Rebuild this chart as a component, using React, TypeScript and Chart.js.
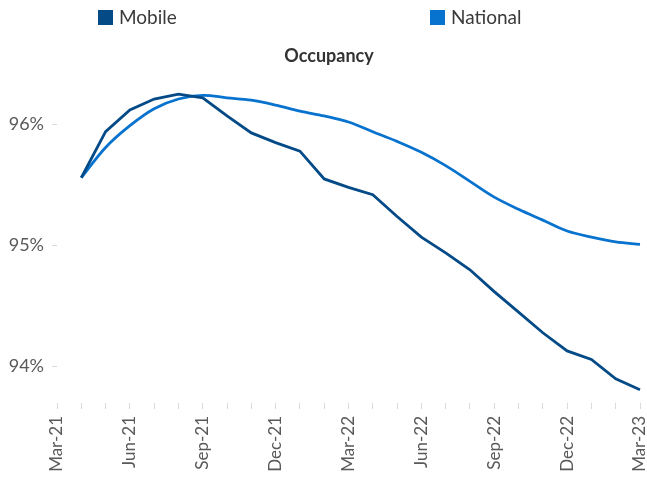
import { useEffect, useRef } from 'react';
import { Chart, registerables } from 'chart.js';

Chart.register(...registerables);

const months = [
  'Mar-21', 'Apr-21', 'May-21', 'Jun-21', 'Jul-21', 'Aug-21', 'Sep-21', 'Oct-21', 'Nov-21',
  'Dec-21', 'Jan-22', 'Feb-22', 'Mar-22', 'Apr-22', 'May-22', 'Jun-22', 'Jul-22', 'Aug-22',
  'Sep-22', 'Oct-22', 'Nov-22', 'Dec-22', 'Jan-23', 'Feb-23', 'Mar-23',
];

const mobile = [
  null, 95.56, 95.94, 96.12, 96.21, 96.25, 96.22, 96.07, 95.93, 95.85, 95.78, 95.55, 95.48,
  95.42, 95.24, 95.07, 94.94, 94.8, 94.62, 94.45, 94.28, 94.13, 94.06, 93.9, 93.81,
];

const national = [
  null, 95.56, 95.81, 95.99, 96.13, 96.21, 96.24, 96.22, 96.2, 96.16, 96.11, 96.07, 96.02,
  95.94, 95.86, 95.77, 95.66, 95.53, 95.4, 95.3, 95.21, 95.12, 95.07, 95.03, 95.01,
];

const yTicks = [94, 95, 96];
const seriesNames = ['Mobile', 'National'];
const seriesColors = ['#034A87', '#0873CF'];
const chartTitle = 'Occupancy';

const FONT = 'Lato, "Open Sans", sans-serif';
const legendX = [98, 430];

const headerPlugin = {
  id: 'header',
  afterDraw(chart: any) {
    const ctx = chart.ctx;
    ctx.save();
    ctx.textBaseline = 'middle';
    ctx.textAlign = 'left';
    ctx.font = `19px ${FONT}`;
    chart.data.datasets.forEach((ds: any, i: number) => {
      const x = legendX[i];
      ctx.fillStyle = ds.borderColor;
      ctx.fillRect(x, 10, 15, 15);
      ctx.fillStyle = '#3a3a3a';
      ctx.fillText(ds.label, x + 21, 18);
    });
    ctx.font = `bold 18px ${FONT}`;
    ctx.textAlign = 'center';
    ctx.fillStyle = '#333333';
    ctx.fillText(chartTitle, 329, 56);
    ctx.restore();
  },
};

export default function App() {
  const ref = useRef<HTMLCanvasElement | null>(null);

  useEffect(() => {
    document.body.style.margin = '0';
    if (!ref.current) return;
    const chart = new Chart(ref.current, {
      type: 'line',
      data: {
        labels: months,
        datasets: [
          {
            label: seriesNames[0],
            data: mobile,
            borderColor: seriesColors[0],
            backgroundColor: seriesColors[0],
            borderWidth: 2.8,
            pointRadius: 0,
            tension: 0,
          },
          {
            label: seriesNames[1],
            data: national,
            borderColor: seriesColors[1],
            backgroundColor: seriesColors[1],
            borderWidth: 2.8,
            pointRadius: 0,
            tension: 0.35,
          },
        ],
      },
      options: {
        animation: false,
        responsive: true,
        maintainAspectRatio: false,
        layout: { padding: { top: 76, right: 7, left: 0, bottom: 0 } },
        plugins: {
          legend: { display: false },
          title: { display: false },
          tooltip: { enabled: false },
        },
        scales: {
          x: {
            type: 'category',
            offset: false,
            grid: {
              display: true,
              drawOnChartArea: false,
              drawTicks: true,
              tickLength: 6,
              color: '#d9d9d9',
              offset: false,
            },
            border: { display: false },
            ticks: {
              autoSkip: false,
              maxRotation: 90,
              minRotation: 90,
              padding: 7,
              color: '#595959',
              font: { family: FONT, size: 17 },
              callback: (_v: any, idx: number) => (idx % 3 === 0 ? months[idx] : ''),
            },
            afterFit: (scale: any) => {
              scale.height = 77;
              scale.paddingLeft = 0;
              scale.paddingRight = 0;
            },
          },
          y: {
            min: 93.7,
            max: 96.4,
            grid: {
              display: true,
              drawOnChartArea: false,
              drawTicks: true,
              tickLength: 5,
              color: '#d9d9d9',
            },
            border: { display: false },
            ticks: {
              padding: 8,
              color: '#595959',
              font: { family: FONT, size: 18 },
              callback: (v: any) => `${v}%`,
            },
            afterBuildTicks: (scale: any) => {
              scale.ticks = yTicks.map((v) => ({ value: v }));
            },
            afterFit: (scale: any) => {
              scale.width = 57;
              scale.paddingTop = 0;
              scale.paddingBottom = 0;
            },
          },
        },
      },
      plugins: [headerPlugin],
    });
    return () => chart.destroy();
  }, []);

  return (
    <div style={{ width: 647, height: 480, position: 'relative' }}>
      <canvas ref={ref} />
    </div>
  );
}
